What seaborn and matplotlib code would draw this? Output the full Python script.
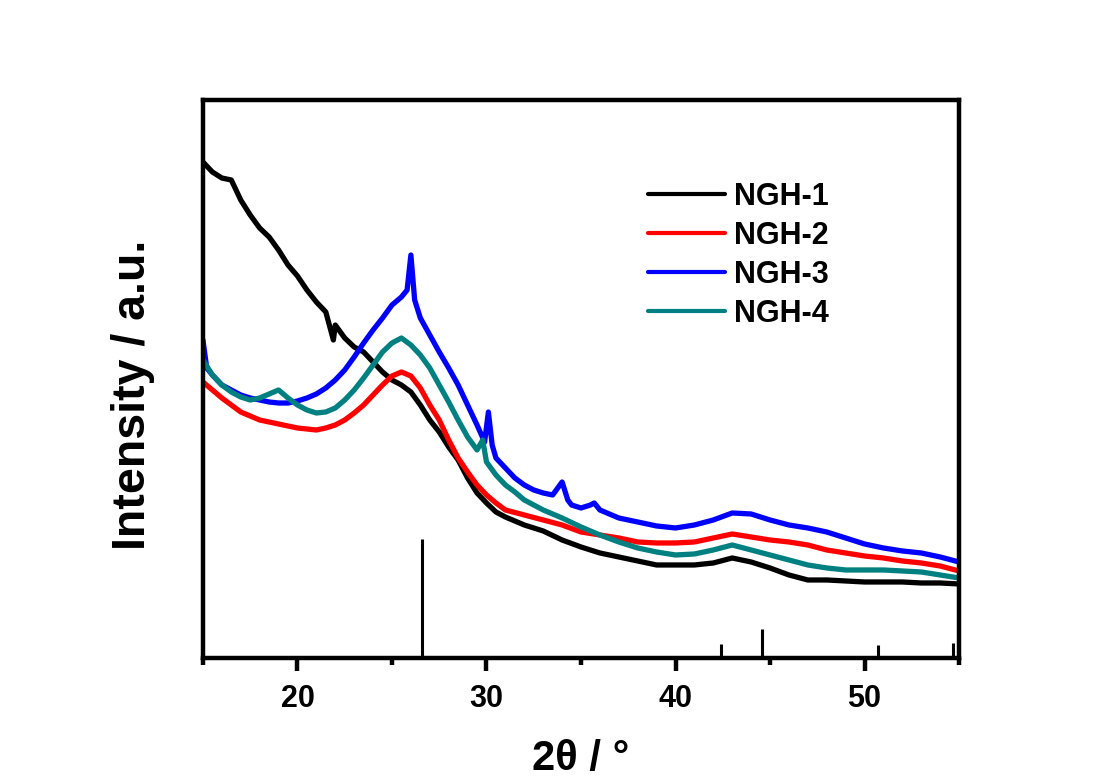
import numpy as np
import pandas as pd
import matplotlib
matplotlib.use("Agg")
import matplotlib.pyplot as plt
import seaborn as sns
from matplotlib.ticker import MultipleLocator, NullLocator

# ---------------- data ----------------
samples = ["NGH-1", "NGH-2", "NGH-3", "NGH-4"]
colors = ["#000000", "#FF0000", "#0000FF", "#008080"]

ngh1_theta = [15, 15.5, 16, 16.5, 17, 17.5, 18, 18.5, 19, 19.5, 20, 20.5, 21, 21.5, 21.9, 22,
              22.5, 23, 23.5, 24, 24.5, 25, 25.5, 26, 26.5, 27, 27.5, 28, 28.5, 29, 29.5, 30,
              30.5, 31, 32, 33, 34, 35, 36, 37, 38, 39, 40, 41, 42, 43, 44, 45, 46, 47, 48,
              49, 50, 51, 52, 53, 54, 55]
ngh1_int = [496, 486, 480, 478, 458, 443, 430, 421, 408, 393, 382, 368, 356, 346, 318, 333,
            320, 311, 306, 296, 286, 278, 273, 266, 253, 238, 226, 211, 198, 180, 165, 155,
            146, 141, 133, 127, 118, 111, 105, 101, 97, 93, 93, 93, 95, 100, 96, 90, 83, 78, 78,
            77, 76, 76, 76, 75, 75, 74]

ngh2_theta = [15, 15.5, 16, 16.5, 17, 17.5, 18, 18.5, 19, 19.5, 20, 20.5, 21, 21.5, 22, 22.5,
              23, 23.5, 24, 24.5, 25, 25.5, 26, 26.5, 27, 27.5, 28, 28.5, 29, 29.5, 30, 30.5,
              31, 32, 33, 34, 35, 36, 37, 38, 39, 40, 41, 42, 43, 44, 45, 46, 47, 48, 49, 50,
              51, 52, 53, 54, 55]
ngh2_int = [276, 268, 260, 253, 246, 242, 238, 236, 234, 232, 230, 229, 228, 230, 233, 238,
            245, 253, 263, 273, 282, 286, 282, 270, 253, 238, 218, 200, 186, 173, 163, 155,
            148, 143, 138, 133, 126, 123, 120, 116, 115, 115, 116, 120, 124, 121, 118, 116,
            113, 108, 105, 102, 100, 97, 95, 92, 87]

ngh3_theta = [15, 15.2, 15.5, 16, 16.5, 17, 17.5, 18, 18.5, 19, 19.5, 20, 20.5, 21, 21.5, 22,
              22.5, 23, 23.5, 24, 24.5, 25, 25.5, 25.8, 26.0, 26.2, 26.5, 27, 27.5, 28, 28.5,
              29, 29.5, 29.9, 30.1, 30.3, 30.5, 31, 31.5, 32, 32.5, 33, 33.5, 34, 34.3, 34.5,
              35, 35.5, 35.7, 36, 37, 38, 39, 40, 41, 42, 43, 44, 45, 46, 47, 48, 49, 50, 51,
              52, 53, 54, 55]
ngh3_int = [318, 290, 283, 273, 268, 263, 260, 258, 256, 255, 255, 257, 260, 264, 270, 278,
            288, 301, 315, 328, 340, 353, 361, 368, 403, 358, 340, 323, 306, 290, 273,
            253, 233, 216, 246, 213, 200, 190, 180, 173, 168, 165, 163, 176, 158, 153,
            150, 153, 155, 148, 140, 136, 132, 130, 133, 138, 145, 144, 138, 133, 130, 126,
            120, 114, 110, 107, 105, 101, 96]

ngh4_theta = [15, 15.5, 16, 16.5, 17, 17.5, 18, 18.5, 19, 19.5, 20, 20.5, 21, 21.5, 22, 22.5,
              23, 23.5, 24, 24.5, 25, 25.5, 26, 26.5, 27, 27.5, 28, 28.5, 29, 29.5, 29.8, 30,
              30.5, 31, 31.5, 32, 33, 34, 35, 36, 37, 38, 39, 40, 41, 42, 43, 44, 45, 46, 47,
              48, 49, 50, 51, 52, 53, 54, 55]
ngh4_int = [298, 283, 273, 266, 261, 258, 260, 264, 268, 260, 253, 248, 245, 246, 250, 258,
            268, 280, 293, 306, 315, 320, 313, 303, 290, 273, 256, 238, 221, 208, 218, 196,
            183, 173, 166, 158, 148, 140, 131, 123, 116, 110, 106, 103, 104, 108, 113, 108,
            103, 98, 93, 90, 88, 88, 88, 87, 86, 83, 80]

# reference (graphite) stick pattern
ref_theta = [26.6, 42.4, 44.55, 50.7, 54.7]
ref_height = [119, 14, 29, 13, 15]

x_ticks = [20, 30, 40, 50]

# ---------------- build long-form table ----------------
frames = []
for name, th, it in zip(samples,
                        [ngh1_theta, ngh2_theta, ngh3_theta, ngh4_theta],
                        [ngh1_int, ngh2_int, ngh3_int, ngh4_int]):
    frames.append(pd.DataFrame({"theta": th, "intensity": it, "sample": name}))
df = pd.concat(frames, ignore_index=True)

# ---------------- style ----------------
sns.set_style("ticks")
plt.rcParams["font.family"] = ["Liberation Sans", "DejaVu Sans"]
plt.rcParams["font.weight"] = "bold"
plt.rcParams["text.color"] = "black"
plt.rcParams["axes.labelcolor"] = "black"
plt.rcParams["xtick.color"] = "black"
plt.rcParams["ytick.color"] = "black"
plt.rcParams["axes.edgecolor"] = "black"

fig = plt.figure(figsize=(11.03, 7.82), dpi=100)
ax = fig.add_axes([0.184, 0.1586, 0.6855, 0.7135])

sns.lineplot(data=df, x="theta", y="intensity", hue="sample", hue_order=samples,
             palette=colors, estimator=None, sort=False, linewidth=3.8, ax=ax)

ax.vlines(ref_theta, 0, ref_height, colors="black", linewidth=2.2)

ax.set_xlim(15, 55)
ax.set_ylim(0, 558)
ax.set_xticks(x_ticks)
ax.xaxis.set_minor_locator(MultipleLocator(5))
ax.yaxis.set_major_locator(NullLocator())
ax.yaxis.set_minor_locator(NullLocator())

for s in ax.spines.values():
    s.set_linewidth(3.2)
    s.set_color("black")
    s.set_visible(True)

ax.tick_params(axis="x", which="major", direction="out", length=9, width=3.2,
               labelsize=22, pad=10, colors="black")
ax.tick_params(axis="x", which="minor", direction="out", length=5, width=3.2,
               colors="black")
for lab in ax.get_xticklabels():
    lab.set_fontweight("bold")

ax.set_xlabel("2θ / °", fontsize=30, fontweight="bold", labelpad=18, color="black")
ax.set_ylabel("Intensity / a.u.", fontsize=33.5, fontweight="bold", color="black")
ax.yaxis.set_label_coords(-0.063, 0.471)

handles, labels = ax.get_legend_handles_labels()
leg = ax.legend(handles, labels, loc="upper left", bbox_to_anchor=(0.569, 0.881),
                frameon=False, handlelength=2.5, handletextpad=0.3,
                labelspacing=0.3, borderpad=0.0,
                prop={"weight": "bold", "size": 22})
for line in leg.get_lines():
    line.set_linewidth(3.0)
for t in leg.get_texts():
    t.set_color("black")

fig.savefig("out.png", dpi=100, facecolor="white")
